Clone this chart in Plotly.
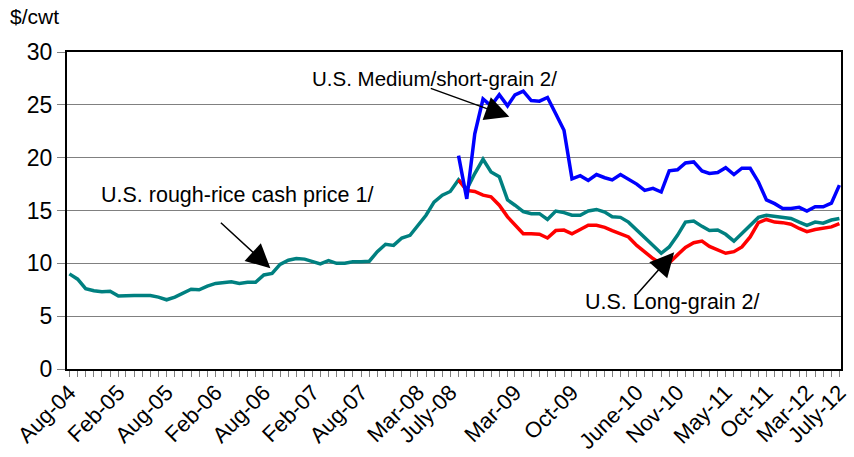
import pandas as pd
import plotly.graph_objects as go

# monthly series, Aug 2004 - July 2012
months = pd.date_range("2004-08-01", periods=96, freq="MS")

rough_rice = [9.0, 8.5, 7.6, 7.4, 7.3, 7.35, 6.9, 6.95, 6.95, 6.95, 6.95, 6.8,
              6.55, 6.8, 7.15, 7.55, 7.5, 7.85, 8.1, 8.15, 8.25, 8.1, 8.2, 8.2,
              8.9, 9.05, 9.9, 10.3, 10.45, 10.4, 10.15, 9.95, 10.25, 10.0, 10.0, 10.15,
              10.15, 10.2, 11.1, 11.8, 11.7, 12.4, 12.65, 13.6, 14.55, 15.8, 16.45, 16.8,
              17.9, 17.0, 18.5, 19.85, 18.65, 18.2, 16.0, 15.5, 14.9, 14.7, 14.7, 14.15,
              14.95, 14.8, 14.55, 14.55, 14.95, 15.1, 14.85, 14.4, 14.35, 13.9, 13.15, 12.4,
              11.7, 10.95, 11.55, 12.65, 13.9, 14.0, 13.5, 13.1, 13.15, 12.75, 12.1, 12.85,
              13.6, 14.35, 14.55, 14.45, 14.3, 14.25, 13.9, 13.6, 13.9, 13.8, 14.1, 14.25]

medium_short = [None] * 48 + [
              20.2, 16.1, 22.25, 25.55, 24.9, 25.95, 24.9, 25.95, 26.3, 25.4, 25.35, 25.7,
              24.15, 22.6, 18.0, 18.3, 17.85, 18.4, 18.1, 17.9, 18.4, 17.95, 17.5, 16.9,
              17.1, 16.75, 18.75, 18.85, 19.5, 19.6, 18.75, 18.5, 18.6, 19.05, 18.4, 19.0,
              19.0, 17.7, 16.0, 15.65, 15.2, 15.2, 15.3, 14.95, 15.35, 15.35, 15.7, 17.4]

long_grain = [None] * 48 + [
              17.9, 16.9, 16.8, 16.45, 16.3, 15.5, 14.4, 13.6, 12.8, 12.8, 12.75, 12.4,
              13.1, 13.15, 12.8, 13.2, 13.6, 13.6, 13.4, 13.1, 12.8, 12.5, 11.7, 11.1,
              10.45, 9.95, 10.05, 10.8, 11.5, 11.95, 12.1, 11.6, 11.25, 10.95, 11.1, 11.55,
              12.5, 13.85, 14.15, 13.9, 13.85, 13.7, 13.3, 13.0, 13.2, 13.3, 13.45, 13.75]

tick_dates = ["2004-08-01", "2005-02-01", "2005-08-01", "2006-02-01", "2006-08-01",
              "2007-02-01", "2007-08-01", "2008-03-01", "2008-07-01", "2009-03-01",
              "2009-10-01", "2010-06-01", "2010-11-01", "2011-05-01", "2011-10-01",
              "2012-03-01", "2012-07-01"]
tick_labels = ["Aug-04", "Feb-05", "Aug-05", "Feb-06", "Aug-06", "Feb-07", "Aug-07",
               "Mar-08", "July-08", "Mar-09", "Oct-09", "June-10", "Nov-10", "May-11",
               "Oct-11", "Mar-12", "July-12"]

font = "Arial, Liberation Sans, sans-serif"

fig = go.Figure()
fig.add_trace(go.Scatter(x=months, y=rough_rice, mode="lines",
                         line=dict(color="#008080", width=3.5)))
fig.add_trace(go.Scatter(x=months, y=long_grain, mode="lines",
                         line=dict(color="#FF0000", width=3.5)))
fig.add_trace(go.Scatter(x=months, y=medium_short, mode="lines",
                         line=dict(color="#0000FF", width=3.5)))

# pixel -> paper helpers for the text labels
L, R, T, B = 67, 3, 52, 87
W, H = 854 - L - R, 457 - T - B


def px(x):
    return (x - L) / W


def py(y):
    return (457 - B - y) / H


annos = [
    dict(text="$/cwt", x=px(7), y=py(16), xanchor="left", yanchor="middle",
         font=dict(size=21)),
    dict(text="U.S. Medium/short-grain 2/", x=px(439), y=py(79),
         xanchor="center", yanchor="middle", font=dict(size=20.5)),
    dict(text="U.S. rough-rice cash price 1/", x=px(239), y=py(195),
         xanchor="center", yanchor="middle", font=dict(size=21.5)),
    dict(text="U.S. Long-grain 2/", x=px(680), y=py(303),
         xanchor="center", yanchor="middle", font=dict(size=21.5)),
]
# arrows: (head x, head y, tail x, tail y) in pixels
for hx, hy, tx, ty in [(515, 117, 435, 88), (273, 269, 222, 222), (682, 253, 643, 297)]:
    annos.append(dict(text="", x=px(hx), y=py(hy), showarrow=True,
                      ax=tx - hx, ay=ty - hy, arrowhead=2, arrowsize=3.2,
                      arrowwidth=1.5, arrowcolor="black"))
for a in annos:
    a.update(xref="paper", yref="paper")
    a.setdefault("showarrow", False)

fig.update_layout(
    width=854, height=457,
    margin=dict(l=L, r=R, t=T, b=B),
    paper_bgcolor="white", plot_bgcolor="white",
    showlegend=False,
    font=dict(family=font, color="black"),
    annotations=annos,
    xaxis=dict(
        range=["2004-07-23", "2012-07-07"],
        tickvals=tick_dates, ticktext=tick_labels, tickangle=-45,
        tickfont=dict(size=22), ticks="", showgrid=False,
        ticklabeloverflow="allow",
        showline=True, linecolor="black", linewidth=2, mirror=True,
        minor=dict(dtick="M1", tick0="2004-08-01", ticks="outside",
                   ticklen=6, tickcolor="#808080", showgrid=False),
    ),
    yaxis=dict(
        range=[0, 30], dtick=5, tickfont=dict(size=23),
        showgrid=True, gridcolor="#808080", gridwidth=1,
        ticks="outside", ticklen=8, tickcolor="#808080",
        showline=True, linecolor="black", linewidth=2, mirror=True,
        zeroline=False,
    ),
)

# page body has a default 8px margin; drop it so the figure sits at 0,0
fig.write_html("out.html", config={"displayModeBar": False},
               post_script="document.body.style.margin='0';")
